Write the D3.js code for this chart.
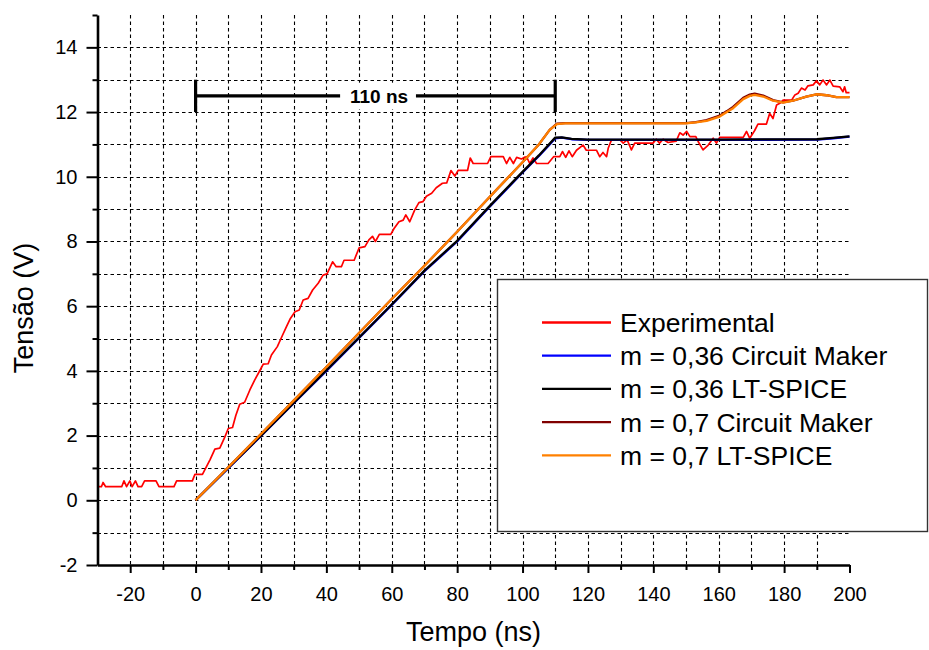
<!DOCTYPE html>
<html>
<head>
<meta charset="utf-8">
<script src="https://cdn.jsdelivr.net/npm/d3@7"></script>
<style>
  html, body { margin: 0; padding: 0; background: #fff; }
  svg { display: block; }
  text { font-family: "Liberation Sans", Arial, sans-serif; fill: #000; }
</style>
</head>
<body>
<svg id="chart" width="929" height="650"></svg>
<script>
// ---------------- data ----------------
const xTicksMajor = [-20, 0, 20, 40, 60, 80, 100, 120, 140, 160, 180, 200];
const xTicksMinor = [-10, 10, 30, 50, 70, 90, 110, 130, 150, 170, 190];
const yTicksMajor = [-2, 0, 2, 4, 6, 8, 10, 12, 14];
const yTicksMinor = [-1, 1, 3, 5, 7, 9, 11, 13, 15];
const xGrid = [-20, -10, 0, 10, 20, 30, 40, 50, 60, 70, 80, 90, 100, 110, 120, 130, 140, 150, 160, 170, 180, 190];
const yGrid = [-1, 0, 1, 2, 3, 4, 5, 6, 7, 8, 9, 10, 11, 12, 13, 14];

const seriesNames = ["Experimental", "m = 0,36 Circuit Maker", "m = 0,36 LT-SPICE", "m = 0,7 Circuit Maker", "m = 0,7 LT-SPICE"];
const seriesColors = ["#ff0000", "#0000ff", "#000000", "#800000", "#ff8000"];

const experimental = [
  [-30,0.42],[-28.8,0.42],[-28.3,0.55],[-27.5,0.42],[-22.6,0.42],[-21.9,0.6],[-21.1,0.42],[-20.1,0.6],[-19.4,0.42],
  [-18.4,0.6],[-17.6,0.42],[-16.5,0.42],[-15.6,0.6],[-12.1,0.6],[-11.2,0.42],[-6.6,0.42],[-5.8,0.6],[-1.0,0.6],
  [-0.2,0.8],[2.1,0.8],[4.4,1.25],[5.9,1.58],[7.4,1.61],[9.0,1.97],[10.0,2.22],[11.3,2.25],[12.3,2.62],[13.5,2.97],
  [15.0,3.03],[16.6,3.41],[18.1,3.72],[19.5,3.98],[20.7,4.21],[22.2,4.22],[23.2,4.49],[25.0,4.75],[26.3,5.04],
  [27.8,5.37],[29.0,5.62],[30.4,5.83],[31.7,5.88],[32.9,6.19],[34.4,6.24],[35.8,6.5],[37.5,6.71],[39.0,6.96],
  [40.2,7.0],[41.9,7.37],[43.0,7.22],[44.6,7.22],[45.4,7.42],[48.5,7.42],[50.0,7.8],[51.8,7.84],[53.0,8.05],
  [54.1,8.16],[55.0,8.0],[56.2,8.22],[59.7,8.22],[60.7,8.4],[62.2,8.61],[63.5,8.66],[64.3,8.82],[65.5,8.61],
  [67.0,8.97],[68.3,9.2],[69.5,9.23],[70.6,9.4],[72.2,9.49],[73.6,9.66],[75.5,9.8],[76.8,9.81],[78.1,10.19],
  [79.3,10.02],[80.3,10.2],[83.2,10.2],[84.0,10.58],[84.9,10.41],[89.3,10.41],[90.3,10.62],[94.1,10.62],
  [95.1,10.41],[96.1,10.6],[97.2,10.41],[98.2,10.6],[99.7,10.55],[100.5,10.6],[101.2,10.62],[102.2,10.41],
  [103.2,10.58],[104.3,10.41],[107.8,10.41],[109.5,10.62],[111.4,10.62],[112.2,10.78],[113.2,10.6],[114.2,10.8],
  [115.2,10.62],[116.5,10.82],[118.5,10.98],[119.5,10.82],[122.6,10.82],[123.6,10.62],[124.6,10.75],[125.7,10.62],
  [126.2,10.88],[127.2,11.14],[129.8,11.14],[130.8,11.04],[132.0,11.14],[133.3,10.83],[134.3,11.04],[139.9,11.04],
  [140.9,11.16],[141.9,11.04],[143.0,11.16],[144.5,11.06],[147.0,11.1],[148.1,11.36],[149.1,11.29],[150.2,11.4],
  [151.2,11.24],[153.0,11.24],[153.7,11.09],[155.2,10.83],[156.8,10.98],[158.3,11.19],[159.3,11.04],[160.3,11.22],
  [167.5,11.22],[168.5,11.4],[169.5,11.19],[171.0,11.43],[172.0,11.63],[174.6,11.63],[175.6,11.96],[176.6,11.8],
  [177.7,12.22],[178.7,12.27],[179.7,12.37],[182.3,12.37],[183.3,12.53],[184.3,12.58],[185.3,12.74],[186.4,12.68],
  [187.3,12.81],[188.9,12.84],[189.9,12.97],[190.9,12.84],[191.9,12.99],[193.0,12.84],[194.0,12.99],[195.0,12.8],
  [197.0,12.78],[198.0,12.63],[198.5,12.78],[199.0,12.6],[200,12.6]
];

const m036CircuitMaker = [
  [0,0],[10,0.99],[20,1.99],[30,3.0],[40,4.0],[50,5.02],[60,6.04],[70,7.08],[80,8.0],[90,9.08],[100,10.13],
  [105,10.64],[108,10.97],[110,11.19],[112,11.21],[115,11.16],[120,11.14],[160,11.14],[190,11.15],[195,11.19],[200,11.24]
];
const m036LTSpice = [
  [0,0],[10,1.0],[20,2.0],[30,3.01],[40,4.02],[50,5.03],[60,6.05],[70,7.1],[80,8.02],[90,9.1],[100,10.15],
  [105,10.66],[108,10.99],[110,11.21],[112,11.22],[115,11.17],[120,11.15],[160,11.15],[190,11.16],[195,11.2],[200,11.25]
];
const m07CircuitMaker = [
  [0,0],[10,1.02],[20,2.05],[30,3.08],[40,4.12],[50,5.17],[60,6.22],[70,7.25],[80,8.3],[90,9.38],[100,10.45],
  [105,11.0],[108.3,11.45],[110.5,11.64],[113,11.66],[150,11.66],[153,11.69],[156.3,11.75],[160.3,11.89],[162.5,12.03],
  [164.4,12.16],[167.5,12.44],[169.5,12.54],[171,12.57],[173.6,12.51],[176.6,12.37],[179.7,12.3],[182.7,12.35],
  [186.8,12.48],[189.9,12.55],[193,12.52],[196,12.46],[200,12.46]
];
const m07LTSpice = [
  [0,0],[10,1.02],[20,2.05],[30,3.08],[40,4.12],[50,5.17],[60,6.22],[70,7.25],[80,8.3],[90,9.38],[100,10.45],
  [105,11.0],[108.3,11.45],[110.5,11.63],[113,11.65],[150,11.65],[153,11.68],[156.3,11.73],[160.3,11.86],[162.5,12.0],
  [164.4,12.12],[167.5,12.4],[169.5,12.5],[171,12.53],[173.6,12.48],[176.6,12.35],[179.7,12.29],[182.7,12.35],
  [186.8,12.48],[189.9,12.55],[193,12.52],[196,12.46],[200,12.46]
];

const bracketStart = 0, bracketEnd = 110, bracketLevel = 12.5, bracketLow = 12, bracketHigh = 13;
const bracketGap = [44.2, 67.4];
const bracketLabel = "110 ns";

// ---------------- layout ----------------
const svg = d3.select("#chart");
const x = d3.scaleLinear().domain([-30, 200]).range([97.5, 849.5]);
const y = d3.scaleLinear().domain([-2, 15]).range([565, 15]);

// grid
const grid = svg.append("g").attr("class", "grid")
  .attr("stroke", "#000").attr("stroke-width", 1.1).attr("stroke-dasharray", "3.5,3");
grid.selectAll("line.v").data(xGrid).join("line").attr("class", "v")
  .attr("x1", d => Math.round(x(d)) + 0.5).attr("x2", d => Math.round(x(d)) + 0.5)
  .attr("y1", y(15)).attr("y2", y(-2));
grid.selectAll("line.h").data(yGrid).join("line").attr("class", "h")
  .attr("y1", d => Math.round(y(d)) + 0.5).attr("y2", d => Math.round(y(d)) + 0.5)
  .attr("x1", x(-30)).attr("x2", x(200));

// series
const line = d3.line().x(d => x(d[0])).y(d => y(d[1]));
const allSeries = [experimental, m036CircuitMaker, m036LTSpice, m07CircuitMaker, m07LTSpice];
const widths = [1.7, 2.3, 2.3, 2.3, 2.3];
svg.append("g").selectAll("path").data(allSeries).join("path")
  .attr("d", line)
  .attr("fill", "none")
  .attr("stroke", (d, i) => seriesColors[i])
  .attr("stroke-width", (d, i) => widths[i])
  .attr("stroke-linejoin", "round");

// axes
const fmt = d => String(d);
function styleAxis(g) {
  g.select(".domain").attr("stroke", "#000").attr("stroke-width", 2.6);
  g.selectAll(".tick line").attr("stroke", "#000").attr("stroke-width", 2);
  g.selectAll(".tick text").style("font-size", "20px").attr("fill", "#000");
}
const gx = svg.append("g").attr("transform", `translate(0,${y(-2)})`)
  .call(d3.axisBottom(x).tickValues(xTicksMajor).tickFormat(fmt).tickSize(8).tickSizeOuter(0).tickPadding(14));
styleAxis(gx);
gx.selectAll(".tick text").attr("y", 22);
const gxm = svg.append("g").attr("transform", `translate(0,${y(-2)})`)
  .call(d3.axisBottom(x).tickValues(xTicksMinor).tickSize(5).tickSizeOuter(0).tickFormat(""));
gxm.select(".domain").remove();
gxm.selectAll(".tick line").attr("stroke", "#000").attr("stroke-width", 2);

const gy = svg.append("g").attr("transform", `translate(${x(-30)},0)`)
  .call(d3.axisLeft(y).tickValues(yTicksMajor).tickFormat(fmt).tickSize(11).tickSizeOuter(0).tickPadding(9));
styleAxis(gy);
const gym = svg.append("g").attr("transform", `translate(${x(-30)},0)`)
  .call(d3.axisLeft(y).tickValues(yTicksMinor).tickSize(5).tickSizeOuter(0).tickFormat(""));
gym.select(".domain").remove();
gym.selectAll(".tick line").attr("stroke", "#000").attr("stroke-width", 2);

// axis titles
svg.append("text").attr("x", (x(-30) + x(200)) / 2).attr("y", 641)
  .attr("text-anchor", "middle").style("font-size", "27px").text("Tempo (ns)");
svg.append("text").attr("transform", "translate(33,308) rotate(-90)")
  .attr("text-anchor", "middle").style("font-size", "27px").text("Tensão (V)");

// bracket annotation
svg.append("rect")
  .attr("x", x(bracketGap[0])).attr("width", x(bracketGap[1]) - x(bracketGap[0]))
  .attr("y", y(bracketHigh) + 3).attr("height", y(bracketLow) - y(bracketHigh) - 6)
  .attr("fill", "#fff");
const br = svg.append("g").attr("stroke", "#000").attr("stroke-width", 3.2);
br.append("line").attr("x1", x(bracketStart)).attr("x2", x(bracketGap[0]))
  .attr("y1", y(bracketLevel)).attr("y2", y(bracketLevel));
br.append("line").attr("x1", x(bracketGap[1])).attr("x2", x(bracketEnd))
  .attr("y1", y(bracketLevel)).attr("y2", y(bracketLevel));
br.selectAll("line.end").data([bracketStart, bracketEnd]).join("line").attr("class", "end")
  .attr("x1", d => x(d)).attr("x2", d => x(d)).attr("y1", y(bracketLow)).attr("y2", y(bracketHigh));
svg.append("text").attr("x", x((bracketGap[0] + bracketGap[1]) / 2) + 1).attr("y", y(bracketLevel)).attr("dy", "0.36em")
  .attr("text-anchor", "middle").style("font-size", "19px").style("font-weight", "bold").text(bracketLabel);

// legend
const lg = svg.append("g");
lg.append("rect").attr("x", 497.5).attr("y", 279.5).attr("width", 430).attr("height", 252)
  .attr("fill", "#fff").attr("stroke", "#333").attr("stroke-width", 1.4);
const rows = lg.selectAll("g.row").data(seriesNames).join("g").attr("class", "row")
  .attr("transform", (d, i) => `translate(0,${322.5 + i * 33.2})`);
rows.append("line").attr("x1", 542).attr("x2", 611).attr("y1", 0).attr("y2", 0)
  .attr("stroke", (d, i) => seriesColors[i]).attr("stroke-width", 2.3);
rows.append("text").attr("x", 620).attr("y", 0).attr("dy", "0.36em")
  .style("font-size", "26.5px").text(d => d);
</script>
</body>
</html>
